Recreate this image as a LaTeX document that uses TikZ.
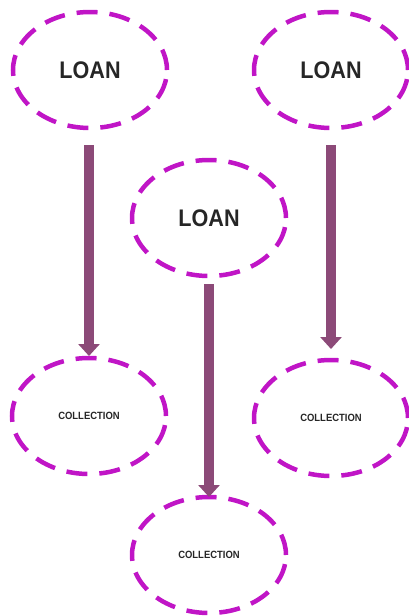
\documentclass[tikz,border=0pt]{standalone}
\usepackage{fontspec}
\setmainfont{Liberation Sans}[FakeStretch=0.9]
\usepackage{tikz}
\usetikzlibrary{arrows.meta,shapes,positioning}
\definecolor{ringpink}{HTML}{C015C6}
\definecolor{arrowplum}{HTML}{8C4A78}
\tikzstyle{ring}    = [ellipse,draw=ringpink,line width=4.5pt,dash pattern=on 21pt off 12pt,
                       minimum width=154pt,minimum height=116pt,inner sep=0pt,outer sep=0pt,
                       text=black!85]
\tikzstyle{loan}    = [ring,font=\fontsize{24}{28}\selectfont\bfseries]
\tikzstyle{coll}    = [ring,font=\fontsize{10.5}{12}\selectfont\bfseries]
\tikzstyle{arrow}   = [draw=arrowplum,line width=10pt,-{Triangle[width=21pt,length=12pt]}]

\begin{document}
\begin{tikzpicture}[x=1pt,y=-1pt]
        \useasboundingbox (0,0) rectangle (408,616);
        % loans
        \node[loan] (loanL) at (90,70) {LOAN};
        \node[loan] (loanR) at (331,70) {LOAN};
        \node[loan] (loanM) at (209,218) {LOAN};
        % collections
        \node[coll] (collL) at (89,416) {COLLECTION};
        \node[coll] (collR) at (331,418) {COLLECTION};
        \node[coll] (collM) at (209,555) {COLLECTION};
        % arrows
        \draw[arrow,shorten <=17pt,shorten >=2pt] (loanL.south -| collL) -- (collL.north);
        \draw[arrow,shorten <=8pt,shorten >=0pt] (loanM.south) -- (collM.north);
        \draw[arrow,shorten <=17pt,shorten >=11pt] (loanR.south) -- (collR.north);
    \end{tikzpicture}
\end{document}
